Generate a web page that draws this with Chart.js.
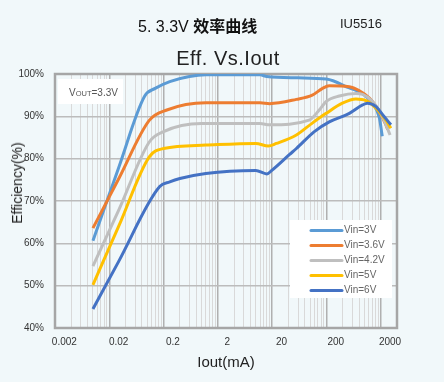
<!DOCTYPE html>
<html><head><meta charset="utf-8">
<script src="https://cdn.jsdelivr.net/npm/chart.js@4/dist/chart.umd.min.js"></script>
<style>
html,body{margin:0;padding:0;background:#f1f8fa;}
#wrap{position:relative;width:444px;height:382px;overflow:hidden;background:#f1f8fa;}
canvas{position:absolute;left:0;top:0;}
.t{position:absolute;white-space:nowrap;font-family:"Liberation Sans",Arial,sans-serif;color:#111;}
</style></head><body>
<div id="wrap">
<canvas id="c" width="444" height="382"></canvas>
<div class="t" style="left:138px;top:15px;height:20px;line-height:20px;font-size:16px;">5. 3.3V <b style="font-family:'Noto Sans CJK SC',sans-serif;font-size:16px;">效率曲线</b></div>
<div class="t" style="left:340px;top:15px;height:18px;line-height:18px;font-size:13px;color:#222;">IU5516</div>
<div class="t" style="left:228px;top:46px;height:24px;line-height:24px;font-size:20px;color:#222;letter-spacing:0.5px;transform:translateX(-50%);">Eff. Vs.Iout</div>
<div class="t" style="left:17px;top:183px;height:18px;line-height:18px;font-size:14px;color:#222;transform:translate(-50%,-50%) rotate(-90deg);">Efficiency(%)</div>
</div>
<script>
// ---- data ----
const seriesLabels = ['Vin=3V','Vin=3.6V','Vin=4.2V','Vin=5V','Vin=6V'];
const seriesColors = ['#5b9bd5','#ed7d31','#bfbfbf','#ffc000','#4472c4'];

const vin3Iout = [0.005,0.015,0.045,0.07,0.13,0.3,0.6,6,8,30,100,265,460,700,940,1070];
const vin3Eff  = [60.6,78.0,94.8,96.6,98.2,99.4,99.8,99.8,99.4,99.1,98.8,96.7,95.4,93.1,89.8,85.3];

const vin36Iout = [0.005,0.015,0.055,0.115,0.6,6,9,28,55,85,113,265,400,620,940,1250,1350];
const vin36Eff  = [63.6,75.3,89.1,91.5,93.2,93.2,93.0,94.0,95.0,96.6,97.2,97.0,96.1,94.3,91.1,88.0,86.9];

const vin42Iout = [0.005,0.015,0.055,0.1,0.5,6,9,48,74,99,173,350,465,710,1080,1490];
const vin42Eff  = [54.6,67.9,84.0,86.4,88.3,88.3,88.0,89.1,91.5,93.5,94.8,95.4,95.2,93.5,89.9,85.6];

const vin5Iout = [0.005,0.015,0.055,0.1,0.6,5,8.5,12,28,55,99,197,350,540,820,1250,1540];
const vin5Eff  = [50.2,64.1,80.5,82.4,83.2,83.6,83.0,83.6,85.6,88.4,90.7,93.1,94.1,93.7,91.9,89.1,87.2];

const vin6Iout = [0.005,0.015,0.085,0.13,0.2,0.6,5,8,10,21,28,60,113,265,465,575,820,1165,1545];
const vin6Eff  = [44.5,55.8,73.4,74.5,75.3,76.5,77.2,76.4,77.3,81.0,82.4,86.4,88.7,90.7,92.7,93.1,92.3,89.9,88.0];

const xTickLabels = ['0.002','0.02','0.2','2','20','200','2000'];
const yTickValues = [40,50,60,70,80,90,100];
const xMin = 0.001, xMax = 2000;
const yMin = 40, yMax = 100;
const boxText = ['V','OUT','=3.3V'];

// ---- build ----
const seriesX = [vin3Iout,vin36Iout,vin42Iout,vin5Iout,vin6Iout];
const seriesY = [vin3Eff,vin36Eff,vin42Eff,vin5Eff,vin6Eff];

const gridValues = [];
for (let e = -3; e <= 3; e++) {
  for (let m = 1; m <= 9; m++) {
    const v = parseFloat((m * Math.pow(10, e)).toPrecision(6));
    if (v >= xMin && v <= xMax) gridValues.push(v);
  }
}
const isMajor = v => { const l = Math.log10(v); return Math.abs(l - Math.round(l)) < 1e-9; };
const labelFor = v => {
  const f = xTickLabels.find(s => Math.abs(parseFloat(s) - v) / v < 1e-6);
  return f || '';
};

const FONT = '"Liberation Sans", Arial, sans-serif';
const NARROW = '"Liberation Sans Narrow", "Liberation Sans", Arial, sans-serif';

const datasets = seriesLabels.map((lab, i) => ({
  label: lab,
  data: seriesX[i].map((x, j) => ({x, y: seriesY[i][j]})),
  borderColor: seriesColors[i],
  backgroundColor: seriesColors[i],
  borderWidth: 3,
  pointRadius: 0,
  fill: false,
  cubicInterpolationMode: 'monotone',
  order: seriesLabels.length - i
}));

const decor = {
  id: 'decor',
  beforeDatasetsDraw(chart) {
    const {ctx, chartArea: a} = chart;
    ctx.save();
    ctx.strokeStyle = '#a6a6a6';
    ctx.lineWidth = 2.5;
    ctx.strokeRect(a.left, a.top, a.right - a.left, a.bottom - a.top);
    // Vout box
    ctx.fillStyle = '#ffffff';
    ctx.fillRect(58, 79, 65, 25);
    ctx.fillStyle = '#555';
    ctx.textBaseline = 'alphabetic';
    let x = 69; const by = 96;
    ctx.font = '10px ' + NARROW; ctx.fillText(boxText[0], x, by); x += ctx.measureText(boxText[0]).width;
    ctx.font = '7.5px ' + NARROW; ctx.fillText(boxText[1], x, by); x += ctx.measureText(boxText[1]).width;
    ctx.font = '10px ' + NARROW; ctx.fillText(boxText[2], x, by);
    ctx.restore();
  },
  afterDatasetsDraw(chart) {
    const {ctx} = chart;
    ctx.save();
    ctx.fillStyle = '#ffffff';
    ctx.fillRect(290, 220, 102, 78);
    chart.data.datasets.forEach((d, i) => {
      const y = 230.5 + i * 15;
      ctx.strokeStyle = d.borderColor;
      ctx.lineWidth = 3;
      ctx.lineCap = 'round';
      ctx.beginPath(); ctx.moveTo(311, y); ctx.lineTo(342, y); ctx.stroke();
      ctx.fillStyle = '#666';
      ctx.font = '10px ' + NARROW;
      ctx.textBaseline = 'middle';
      ctx.fillText(d.label, 344, y);
    });
    ctx.restore();
  }
};

new Chart(document.getElementById('c'), {
  type: 'line',
  data: { datasets },
  plugins: [decor],
  options: {
    responsive: false,
    animation: false,
    layout: { padding: { left: 0, right: 47, top: 74, bottom: 0 } },
    plugins: { legend: { display: false }, tooltip: { enabled: false }, title: { display: false } },
    scales: {
      x: {
        type: 'logarithmic',
        min: xMin, max: xMax,
        afterBuildTicks: s => { s.ticks = gridValues.map(v => ({value: v})); },
        afterFit: s => { s.height = 54; },
        border: { display: false },
        grid: {
          drawTicks: false,
          color: c => (c.tick && isMajor(c.tick.value)) ? '#b0b0b0' : '#d9d9d9',
          lineWidth: c => (c.tick && isMajor(c.tick.value)) ? 1.5 : 1
        },
        ticks: {
          autoSkip: false, maxRotation: 0, minRotation: 0,
          labelOffset: -7, padding: 8,
          color: '#333', font: { size: 10, family: FONT },
          callback: v => labelFor(v)
        },
        title: { display: true, text: 'Iout(mA)', color: '#222', font: { size: 15, family: FONT }, padding: { top: 0, bottom: 10 } }
      },
      y: {
        type: 'linear',
        min: yMin, max: yMax,
        afterBuildTicks: s => { s.ticks = yTickValues.map(v => ({value: v})); },
        afterFit: s => { s.width = 55; },
        border: { display: false },
        grid: { drawTicks: false, color: '#bcbcbc', lineWidth: 1.5 },
        ticks: { padding: 11, color: '#333', font: { size: 10, family: FONT }, callback: v => v + '%' },
        title: { display: false }
      }
    }
  }
});
</script>
</body></html>
